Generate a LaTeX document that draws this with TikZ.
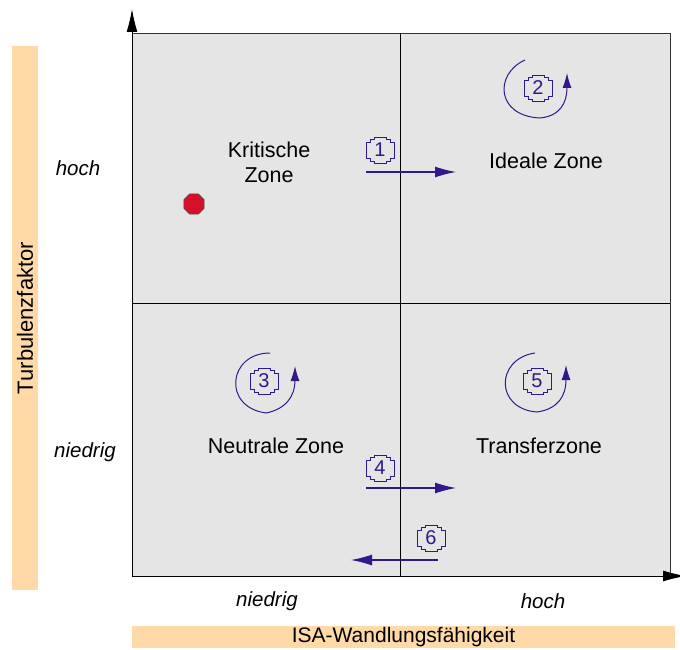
\documentclass[tikz,border=0pt]{standalone}
\usepackage{fontspec}
\setmainfont{Liberation Sans}
\usetikzlibrary{arrows.meta,shapes.geometric}
\definecolor{zonegray}{RGB}{229,229,229}
\definecolor{labelorange}{RGB}{255,217,168}
\definecolor{vio}{RGB}{50,24,140}
\definecolor{dotred}{RGB}{214,16,40}
\tikzset{
  zonetext/.style={font=\fontsize{21.5}{25}\selectfont, align=center},
  axistext/.style={font=\fontsize{20.5}{24}\selectfont\itshape},
  badge/.style={font=\fontsize{20}{22}\selectfont, text=vio, inner sep=0pt, minimum width=28pt, minimum height=24pt},
  flowarrow/.style={vio, line width=1.1pt, -{Latex[length=21pt,width=11pt]}},
  turnarrow/.style={vio, line width=1pt, -{Latex[length=15pt,width=9pt]}},
  axisarrow/.style={black, line width=1pt, -{Latex[length=23pt,width=11pt]}},
  badgeline/.style={vio, line width=0.8pt}
}
\newcommand\badgeframe[1]{%
  \draw[badgeline] ([shift={(-6,-13)}]#1.center) -- ([shift={(6,-13)}]#1.center)
    -- ([shift={(6,-11)}]#1.center) -- ([shift={(10,-11)}]#1.center)
    -- ([shift={(10,-8)}]#1.center) -- ([shift={(14,-8)}]#1.center)
    -- ([shift={(14,8)}]#1.center) -- ([shift={(10,8)}]#1.center)
    -- ([shift={(10,11)}]#1.center) -- ([shift={(6,11)}]#1.center)
    -- ([shift={(6,13)}]#1.center) -- ([shift={(-6,13)}]#1.center)
    -- ([shift={(-6,11)}]#1.center) -- ([shift={(-10,11)}]#1.center)
    -- ([shift={(-10,8)}]#1.center) -- ([shift={(-14,8)}]#1.center)
    -- ([shift={(-14,-8)}]#1.center) -- ([shift={(-10,-8)}]#1.center)
    -- ([shift={(-10,-11)}]#1.center) -- ([shift={(-6,-11)}]#1.center) -- cycle;}
\begin{document}
\begin{tikzpicture}[x=1pt,y=-1pt]
\useasboundingbox (0,0) rectangle (680,650);
% quadrants
\fill[zonegray] (132,33) rectangle (670,576);
\draw[black!80, line width=0.8pt] (132,33) rectangle (670,576);
\draw[black, line width=0.8pt] (400,33) -- (400,576);
\draw[black, line width=0.8pt] (132,303) -- (670,303);
% axes
\coordinate (origin) at (132,576);
\coordinate (ytip) at (132,9);
\coordinate (xtip) at (686,576);
\draw[axisarrow] (origin) -- (ytip);
\draw[axisarrow] (origin) -- (xtip);
% axis label boxes
\node[fill=labelorange, minimum width=26pt, minimum height=544pt, inner sep=0pt] (ylab) at (25,318) {};
\node[rotate=90, font=\fontsize{22}{24}\selectfont] at (ylab.center) {Turbulenzfaktor};
\node[fill=labelorange, minimum width=543pt, minimum height=22pt, inner sep=0pt, font=\fontsize{21}{22}\selectfont] (xlab) at (403.5,637) {ISA-Wandlungsfähigkeit};
% axis values
\node[axistext] (yhoch) at (78,168) {hoch};
\node[axistext] (yniedrig) at (85,452) {niedrig};
\node[axistext] (xniedrig) at (267,601) {niedrig};
\node[axistext] (xhoch) at (543,601) {hoch};
% zone names
\node[zonetext] (kritisch) at (269,162) {Kritische\\Zone};
\node[zonetext] (ideal) at (546,161) {Ideale Zone};
\node[zonetext] (neutral) at (276,446) {Neutrale Zone};
\node[zonetext] (transfer) at (539,446) {Transferzone};
% red dot
\node[regular polygon, regular polygon sides=8, fill=dotred, draw=black!70, line width=0.6pt, minimum size=22pt, inner sep=0pt] (dot) at (194,204) {};
% badges
\node[badge] (b1) at (380,150) {1};
\node[badge] (b2) at (538,88) {2};
\node[badge] (b3) at (264,381) {3};
\node[badge] (b4) at (380,468) {4};
\node[badge] (b5) at (537,381) {5};
\node[badge] (b6) at (431,538) {6};
\badgeframe{b1}\badgeframe{b2}\badgeframe{b3}\badgeframe{b4}\badgeframe{b5}\badgeframe{b6}
% straight arrows
\coordinate (a1s) at (366,172); \coordinate (a1e) at (456,172);
\coordinate (a4s) at (366,488); \coordinate (a4e) at (456,488);
\coordinate (a6s) at (438,560); \coordinate (a6e) at (351,560);
\draw[flowarrow] (a1s) -- (a1e);
\draw[flowarrow] (a4s) -- (a4e);
\draw[flowarrow] (a6s) -- (a6e);
% turning arrows
\draw[turnarrow] ([shift={(-13,-28)}]b2.center) .. controls ([shift={(-44,-14)}]b2.center) and ([shift={(-42,28)}]b2.center) .. ([shift={(2,30)}]b2.center) .. controls ([shift={(22,28)}]b2.center) and ([shift={(29,15)}]b2.center) .. ([shift={(29,-15)}]b2.center);
\draw[turnarrow] ([shift={(6,-28)}]b3.center) .. controls ([shift={(-36,-28)}]b3.center) and ([shift={(-42,26)}]b3.center) .. ([shift={(2,32)}]b3.center) .. controls ([shift={(22,28)}]b3.center) and ([shift={(31,15)}]b3.center) .. ([shift={(31,-15)}]b3.center);
\draw[turnarrow] ([shift={(-2,-28)}]b5.center) .. controls ([shift={(-42,-22)}]b5.center) and ([shift={(-42,28)}]b5.center) .. ([shift={(0,31)}]b5.center) .. controls ([shift={(21,28)}]b5.center) and ([shift={(29,15)}]b5.center) .. ([shift={(29,-16)}]b5.center);
\end{tikzpicture}
\end{document}
